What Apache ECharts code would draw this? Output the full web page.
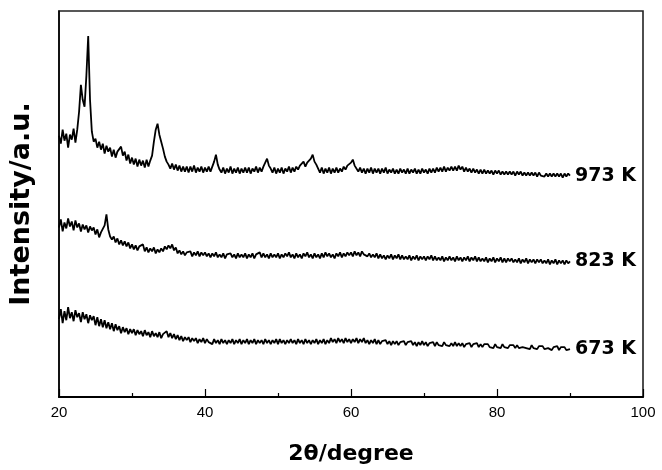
<!DOCTYPE html>
<html>
<head>
<meta charset="utf-8">
<script src="https://cdn.jsdelivr.net/npm/echarts@6/dist/echarts.min.js"></script>
<style>
html,body{margin:0;padding:0;background:#fff;}
#chart{width:662px;height:470px;}
</style>
</head>
<body>
<div id="chart"></div>
<script>
// 2-theta grid of the sampled patterns (degrees)
const thetaStart = 20;
const thetaStep = 0.25;

// Intensities (arbitrary units), one value per 0.25 deg from 20 to 90
const i973 = [
262,254,268,257,264,250,263,258,269,255,268,286,313,298,291,322,362,298,266,256,
259,250,256,248,254,244,252,246,250,241,248,240,246,244,251,242,246,237,243,234,
240,233,239,231,238,232,237,230,238,231,237,242,256,268,274,263,256,249,241,236,
233,229,234,228,233,227,232,226,231,226,231,225,231,226,232,225,230,226,231,225,
230,226,231,226,231,236,243,233,228,225,230,224,229,225,231,224,229,225,230,224,
229,225,230,225,230,224,229,226,231,225,230,226,231,233,239,232,229,225,230,224,
229,225,230,224,229,226,231,225,230,226,231,228,232,230,236,231,235,233,239,243,
236,233,229,225,230,224,229,225,230,224,229,225,230,225,229,226,231,228,232,231,
235,238,232,230,226,230,225,229,224,229,225,230,224,229,225,229,224,229,225,230,
224,228,225,229,224,228,224,229,225,228,224,229,224,228,225,229,224,228,224,229,
225,228,224,229,225,229,225,230,226,230,226,231,226,230,227,231,227,231,227,232,
228,231,226,230,226,229,225,229,225,228,224,228,224,228,224,227,224,227,223,227,
224,227,223,226,223,226,223,226,223,226,222,226,223,226,222,225,222,225,222,225,
222,225,221,225,222,224,221,224,221,224,221,224,221,224,221,224,220,224,221,224,
222
];
const i823 = [
170,178,166,175,169,179,171,176,167,177,170,174,166,173,168,172,165,171,167,170,
163,168,160,165,164,172,183,168,161,158,161,155,159,153,157,152,156,151,155,149,
153,148,152,147,151,149,153,146,150,145,149,146,150,144,148,145,149,146,151,148,
152,149,153,147,150,144,147,143,146,142,145,143,146,141,145,142,146,141,145,142,
145,141,144,140,144,141,145,140,143,140,144,139,143,141,144,140,143,139,144,140,
143,140,144,139,143,140,144,139,143,141,145,140,144,140,143,139,144,140,143,140,
144,139,143,140,144,141,145,140,143,139,144,140,143,139,144,141,145,140,143,139,
144,140,143,139,144,140,145,141,144,140,143,139,144,141,145,140,144,141,145,142,
145,141,146,142,145,141,146,143,145,141,144,140,143,140,144,139,143,139,142,138,
142,139,143,138,142,139,143,138,142,138,141,138,142,137,141,138,142,137,141,138,
141,137,141,138,142,137,141,137,140,137,141,136,140,137,141,137,140,136,141,137,
140,136,140,137,141,136,140,137,141,136,140,136,139,136,140,135,139,136,140,135,
139,136,140,135,139,135,139,136,139,135,138,135,139,134,138,135,139,134,138,135,
138,134,138,135,138,134,137,134,138,133,137,134,138,133,137,134,137,133,137,134,
136
];
const i673 = [
78,88,74,86,77,90,79,85,76,87,80,84,75,85,78,83,74,82,77,81,
72,80,71,78,70,77,69,75,68,74,66,73,67,71,64,70,65,69,63,68,
64,68,62,67,63,66,61,67,62,65,60,66,61,64,60,65,59,63,61,66,
60,64,59,63,58,62,57,61,56,60,57,60,55,59,56,59,54,58,55,59,
54,58,55,57,53,58,54,57,53,58,54,57,53,57,54,58,53,57,54,58,
53,57,54,58,53,57,54,58,53,57,54,57,53,58,54,57,53,57,54,58,
53,58,54,57,53,57,54,58,54,57,53,58,54,57,53,58,54,57,53,57,
54,58,53,57,54,58,53,57,54,59,55,58,54,59,55,58,54,59,55,58,
54,58,55,59,54,58,55,59,54,57,53,57,54,58,53,57,53,56,54,57,
53,56,52,56,53,56,52,55,53,56,52,55,53,56,52,55,51,55,52,56,
52,55,51,54,52,55,51,55,52,54,51,55,52,54,51,54,51,55,51,54,
51,54,50,53,51,54,50,53,51,54,50,53,50,53,51,53,50,52,49,53,
50,52,49,53,50,52,49,52,50,52,49,52,49,51,50,52,49,51,48,52,
49,51,48,51,49,51,48,50,49,51,47,50,48,51,47,50,48,50,47,49,
48
];

const seriesNames = ['973 K', '823 K', '673 K'];
const seriesValues = [i973, i823, i673];
const xTickValues = [20, 40, 60, 80, 100];
const xTitle = '2θ/degree';
const yTitle = 'Intensity/a.u.';

function toPairs(vals) {
  return vals.map((v, i) => [thetaStart + i * thetaStep, v]);
}

const chart = echarts.init(document.getElementById('chart'), null, {renderer: 'canvas'});
chart.setOption({
  animation: false,
  backgroundColor: '#ffffff',
  grid: {
    left: 58, right: 19, top: 11, bottom: 72,
    show: true, borderColor: '#222', borderWidth: 1.6, backgroundColor: 'transparent'
  },
  xAxis: {
    type: 'value',
    min: xTickValues[0],
    max: xTickValues[xTickValues.length - 1],
    interval: 20,
    name: xTitle,
    nameLocation: 'middle',
    nameGap: 46,
    nameTextStyle: {fontFamily: 'DejaVu Sans', fontWeight: 'bold', fontSize: 22, color: '#000'},
    axisLine: {show: true, onZero: false, lineStyle: {color: '#000', width: 2}},
    axisTick: {show: true, inside: true, length: 8, lineStyle: {color: '#000', width: 1.2}},
    minorTick: {show: true, splitNumber: 2, length: 4, lineStyle: {color: '#000', width: 1.2}},
    axisLabel: {show: true, margin: 8, fontFamily: 'Liberation Sans', fontSize: 15, color: '#000'},
    splitLine: {show: false}
  },
  yAxis: {
    type: 'value',
    min: 0,
    max: 387,
    name: yTitle,
    nameLocation: 'middle',
    nameGap: 24,
    nameRotate: 90,
    nameTextStyle: {fontFamily: 'DejaVu Sans', fontWeight: 'bold', fontSize: 27, color: '#000'},
    axisLine: {show: true, lineStyle: {color: '#000', width: 1.5}},
    axisTick: {show: false},
    axisLabel: {show: false},
    splitLine: {show: false}
  },
  series: seriesValues.map((vals, k) => ({
    name: seriesNames[k],
    type: 'line',
    data: toPairs(vals),
    showSymbol: false,
    symbol: 'none',
    lineStyle: {color: '#000', width: 1.8},
    endLabel: {
      show: true,
      formatter: seriesNames[k],
      distance: 5,
      fontFamily: 'DejaVu Sans',
      fontWeight: 'bold',
      fontSize: 19,
      color: '#000'
    }
  }))
});
</script>
</body>
</html>
